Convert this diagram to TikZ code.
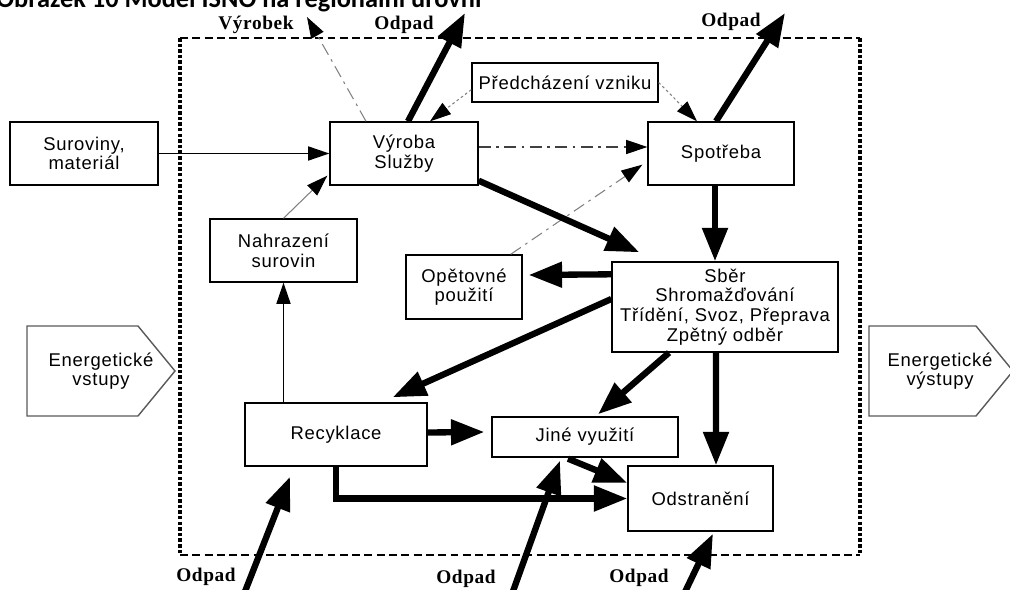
\documentclass[tikz,border=0pt]{standalone}
\usepackage{fontspec}
\setmainfont{Liberation Sans}
\newfontfamily\boxfont[LetterSpace=4]{Liberation Sans}
\newfontfamily\lblfont[LetterSpace=3]{Liberation Serif}
\newfontfamily\titlefont{Carlito}
\usetikzlibrary{positioning,calc,arrows.meta}

\begin{document}
\begin{tikzpicture}[x=0.02cm,y=-0.02cm,
  box/.style={draw,line width=0.8pt,align=center,inner sep=1pt,font=\boxfont\fontsize{10.5}{11.2}\selectfont,minimum width=2.96cm,minimum height=1.26cm},
  energy/.style={align=center,inner sep=1pt,font=\boxfont\fontsize{10.5}{11.2}\selectfont},
  energy line/.style={draw=black!65,line width=0.8pt},
  lbl/.style={font=\lblfont\bfseries\fontsize{11}{12}\selectfont,inner sep=0pt},
  flow/.style={-{Triangle[length=12pt,width=8pt]},line width=0.8pt},
  heavy/.style={-{Triangle[length=19pt,width=14pt]},line width=3.6pt},
  hint/.style={-{Triangle[length=12pt,width=8pt,color=black]},draw=black!50,line width=0.6pt},
  dotted hint/.style={hint,dash pattern=on 1.5pt off 1.5pt},
  dashdot hint/.style={hint,dash pattern=on 7pt off 3pt on 1.5pt off 3pt}]
\clip (0,0) rectangle (1010,590);
\node[anchor=base west,inner sep=0pt,font=\titlefont\bfseries\fontsize{15}{17}\selectfont] (title) at (-4,8) {Obrázek 10 Model ISNO na regionální úrovni};
% hranice regionu
\draw[line width=1.2pt,dash pattern=on 4.5pt off 2.5pt] (180,38) -- (860,38) (180,555) -- (860,555);
\draw[line width=1.8pt,dash pattern=on 2pt off 1.2pt] (180,38) -- (180,555) (860,38) -- (860,555);

\node[box] (sur) at (84,153.5) {Suroviny,\\materiál};
\node[box] (vyr) at (404,153.5) {Výroba\\Služby};
\node[box,minimum width=3.72cm,minimum height=0.78cm] (pred) at (565,82.5) {Předcházení vzniku};
\node[box,minimum width=2.92cm] (spot) at (721,153.5) {Spotřeba};
\node[box,minimum width=2.94cm] (nahr) at (283.5,250.5) {Nahrazení\\surovin};
\node[box,minimum width=2.32cm,minimum height=1.28cm] (opet) at (464,287) {Opětovné\\použití};
\node[box,minimum width=4.52cm,minimum height=1.8cm] (sber) at (725,307) {Sběr\\Shromažďování\\Třídění, Svoz, Přeprava\\Zpětný odběr};
\node[box,minimum width=3.64cm] (recy) at (336,434.5) {Recyklace};
\node[box,minimum width=3.72cm,minimum height=0.8cm] (jine) at (585,437) {Jiné využití};
\node[box,minimum width=2.9cm,minimum height=1.3cm] (odst) at (700.5,498.5) {Odstranění};

% energie
\draw[energy line] (27,326) -- (138,326) -- (175,371) -- (138,416) -- (27,416) -- cycle;
\node[energy] (ein) at (101,371) {Energetické\\vstupy};
\draw[energy line] (869,326) -- (976,326) -- (1013,371) -- (976,416) -- (869,416) -- cycle;
\node[energy] (eout) at (940,371) {Energetické\\výstupy};

\node[lbl] (vyrobek) at (256,25) {Výrobek};
\node[lbl] (odpad1) at (404,25) {Odpad};
\node[lbl] (odpad2) at (731,22) {Odpad};
\node[lbl] (odpad3) at (206,577) {Odpad};
\node[lbl] (odpad4) at (466,579) {Odpad};
\node[lbl] (odpad5) at (639,578) {Odpad};
\coordinate (vyrobekTip) at (307,17);
\coordinate (odpadTip1) at (465,13);
\coordinate (odpadTip2) at (785,13);
\coordinate (odpadIn1) at (244,594);
\coordinate (odpadIn2) at (512,594);
\coordinate (odpadIn3) at (684,594);

\draw[flow] (sur) -- (vyr);
\draw[hint] (nahr.north) -- ($(vyr.south west)+(-2,-10)$);
\draw[flow] (recy.north -| nahr.south) -- (nahr.south);
\draw[dashdot hint] ($(vyr.north)+(-38,0)$) -- (vyrobekTip);
\draw[heavy] ($(vyr.north)+(4,0)$) -- (odpadTip1);
\draw[dotted hint] ($(pred.south west)+(0,-13)$) -- ($(vyr.north)+(26,0)$);
\draw[dotted hint] (pred.east) -- ($(spot.north)+(-24,0)$);
\draw[heavy] ($(spot.north)+(-5,0)$) -- (odpadTip2);
\draw[dashdot hint,draw=black!75] ($(vyr.east)+(0,-6.5)$) -- ($(spot.west)+(0,-6.5)$);
\draw[dashdot hint] ($(opet.north east)+(-12,0)$) -- ($(spot.south west)+(-5,-21)$);
\draw[heavy] ($(vyr.south east)+(0,-5)$) -- ($(sber.north west)+(28,-9)$);
\draw[heavy] ($(spot.south)+(-6,0)$) -- ($(sber.north)+(-10,0)$);
\draw[heavy] ($(sber.north west)+(0,13)$) -- ($(opet.east)+(6,-12)$);
\draw[heavy] ($(sber.west)+(0,-8)$) -- ($(recy.north east)+(-35,-5)$);
\draw[heavy] ($(sber.south)+(-56,0)$) -- ($(jine.north)+(13,-2)$);
\draw[heavy] ($(sber.south)+(-9,0)$) -- ($(odst.north)+(15.5,0)$);
\draw[heavy] ($(recy.east)+(0,-2)$) -- ($(jine.west)+(-7,-5)$);
\draw[heavy] (recy.south) |- (odst.west);
\draw[heavy] ($(jine.south)+(-17,1)$) -- ($(odst.west)+(0,-15.5)$);
\draw[heavy] (odpadIn1) -- ($(recy.south)+(-46,10)$);
\draw[heavy] (odpadIn2) -- ($(jine.south)+(-25,3)$);
\draw[heavy] (odpadIn3) -- ($(odst.south)+(12.5,2)$);
\end{tikzpicture}
\end{document}
